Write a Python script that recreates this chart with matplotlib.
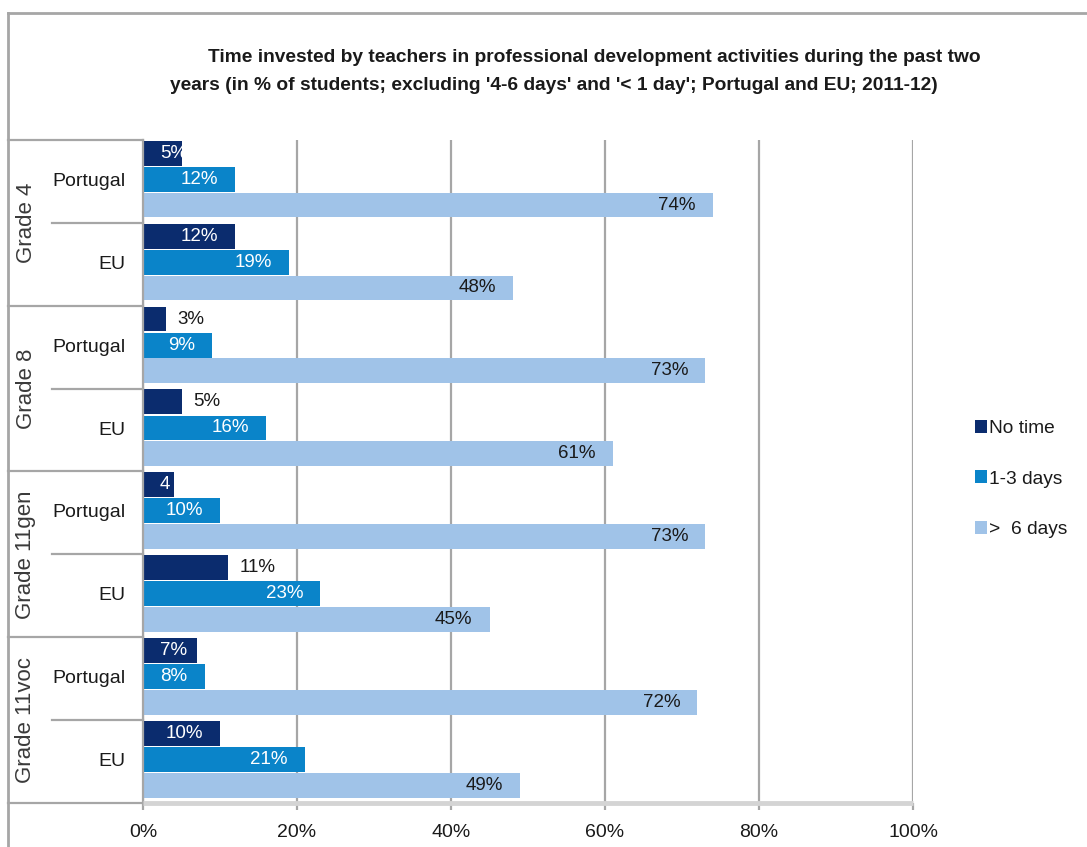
import matplotlib
matplotlib.use("Agg")
import matplotlib.pyplot as plt
from matplotlib.patches import Patch
from matplotlib.lines import Line2D
import matplotlib.transforms as mtransforms
import numpy as np

plt.rcParams['font.family'] = ['Liberation Sans', 'DejaVu Sans']

# ---------------- data ----------------
grades = ['Grade 4', 'Grade 8', 'Grade 11gen', 'Grade 11voc']
countries = ['Portugal', 'EU']
series_names = ['No time', '1-3 days', '>  6 days']
no_time = [5, 12, 3, 5, 4, 11, 7, 10]
days_1_3 = [12, 19, 9, 16, 10, 23, 8, 21]
days_6 = [74, 48, 73, 61, 73, 45, 72, 49]
no_time_labels = ['5%', '12%', '3%', '5%', '4', '11%', '7%', '10%']
days_1_3_labels = ['12%', '19%', '9%', '16%', '10%', '23%', '8%', '21%']
days_6_labels = ['74%', '48%', '73%', '61%', '73%', '45%', '72%', '49%']
no_time_pos = ['in', 'in', 'out', 'out', 'in', 'out', 'in', 'in']
xticks = [0, 20, 40, 60, 80, 100]
xtick_labels = ['0%', '20%', '40%', '60%', '80%', '100%']

colors = ['#0b2c6e', '#0a84c9', '#a0c3e8']
grid_col = '#a6a6a6'
text_col = '#1a1a1a'

W, H = 1087, 847
fig = plt.figure(figsize=(W / 100, H / 100), dpi=100)
ax_l, ax_r, ax_t, ax_b = 143, 913, 140, 803
ax = fig.add_axes([ax_l / W, 1 - ax_b / H, (ax_r - ax_l) / W, (ax_b - ax_t) / H])

n = len(no_time)
slots = np.arange(n)
bh = 0.30
centers = [slots + 0.16, slots + 0.475, slots + 0.785]
all_series = [no_time, days_1_3, days_6]
for s, (vals, c) in enumerate(zip(all_series, colors)):
    ax.barh(centers[s], vals, height=bh, color=c, zorder=2)

ax.set_xlim(0, 100)
ax.set_ylim(n, 0)
ax.set_xticks(xticks)
ax.set_xticklabels(xtick_labels, fontsize=14, color=text_col)
ax.set_yticks([])
ax.grid(axis='x', color=grid_col, lw=1.6, zorder=0)
ax.tick_params(axis='x', length=5, width=1.6, color=grid_col, pad=10)
for sp in ['top', 'right']:
    ax.spines[sp].set_visible(False)
ax.spines['left'].set_color(grid_col)
ax.spines['left'].set_linewidth(1.6)
ax.spines['bottom'].set_color('#d4d4d4')
ax.spines['bottom'].set_linewidth(3.5)
ax.spines['bottom'].set_capstyle('butt')

lab_fs = 13.5
pad = 2.2
# No time labels
for i, (v, lab, pos) in enumerate(zip(no_time, no_time_labels, no_time_pos)):
    y = centers[0][i]
    if pos == 'out':
        ax.text(v + 1.5, y, lab, ha='left', va='center', fontsize=lab_fs, color=text_col, zorder=3)
    elif v < 9:
        ax.text(pad, y, lab, ha='left', va='center', fontsize=lab_fs, color='white', zorder=3)
    else:
        ax.text(v - pad, y, lab, ha='right', va='center', fontsize=lab_fs, color='white', zorder=3)
for i, (v, lab) in enumerate(zip(days_1_3, days_1_3_labels)):
    y = centers[1][i]
    if v < 9:
        ax.text(pad, y, lab, ha='left', va='center', fontsize=lab_fs, color='white', zorder=3)
    else:
        ax.text(v - pad, y, lab, ha='right', va='center', fontsize=lab_fs, color='white', zorder=3)
for i, (v, lab) in enumerate(zip(days_6, days_6_labels)):
    y = centers[2][i]
    ax.text(v - pad, y, lab, ha='right', va='center', fontsize=lab_fs, color=text_col, zorder=3)

# Left category area
trans = mtransforms.blended_transform_factory(ax.transAxes, ax.transData)
x_outer = (8 - ax_l) / (ax_r - ax_l)
x_inner = (52 - ax_l) / (ax_r - ax_l)
x_grade = (26 - ax_l) / (ax_r - ax_l)
x_country = (125 - ax_l) / (ax_r - ax_l)
for k in range(len(grades) + 1):
    ax.add_line(Line2D([x_outer, 0], [2 * k, 2 * k], transform=trans, color=grid_col, lw=1.6, clip_on=False))
for k in range(len(grades)):
    ax.add_line(Line2D([x_inner, 0], [2 * k + 1, 2 * k + 1], transform=trans, color=grid_col, lw=1.6, clip_on=False))
    ax.text(x_grade, 2 * k + 1, grades[k], transform=trans, rotation=90, ha='center', va='center',
            fontsize=16, color='#3a3a3a')
    for j, cn in enumerate(countries):
        ax.text(x_country, 2 * k + j + 0.5, cn, transform=trans, ha='right', va='center',
                fontsize=14, color=text_col)

# Outer frame
fig.add_artist(Line2D([8 / W, 1], [1 - 13 / H, 1 - 13 / H], transform=fig.transFigure, color=grid_col, lw=2))
fig.add_artist(Line2D([8 / W, 8 / W], [0, 1 - 13 / H], transform=fig.transFigure, color=grid_col, lw=2))

# Title
fig.text(594 / W, 1 - 58 / H, 'Time invested by teachers in professional development activities during the past two',
         ha='center', va='center', fontsize=13.8, fontweight='bold', color=text_col)
fig.text(554 / W, 1 - 86 / H, "years (in % of students; excluding '4-6 days' and '< 1 day'; Portugal and EU; 2011-12)",
         ha='center', va='center', fontsize=13.8, fontweight='bold', color=text_col)

# Legend
handles = [Patch(facecolor=c, edgecolor='none') for c in colors]
leg = fig.legend(handles, series_names, loc='center left', bbox_to_anchor=(975 / W, 1 - 479 / H),
                 frameon=False, fontsize=13.8, handlelength=0.65, handleheight=0.65, handletextpad=0.1,
                 labelspacing=1.75, borderaxespad=0, borderpad=0)
for t in leg.get_texts():
    t.set_color(text_col)

fig.savefig('out.png', dpi=100)
